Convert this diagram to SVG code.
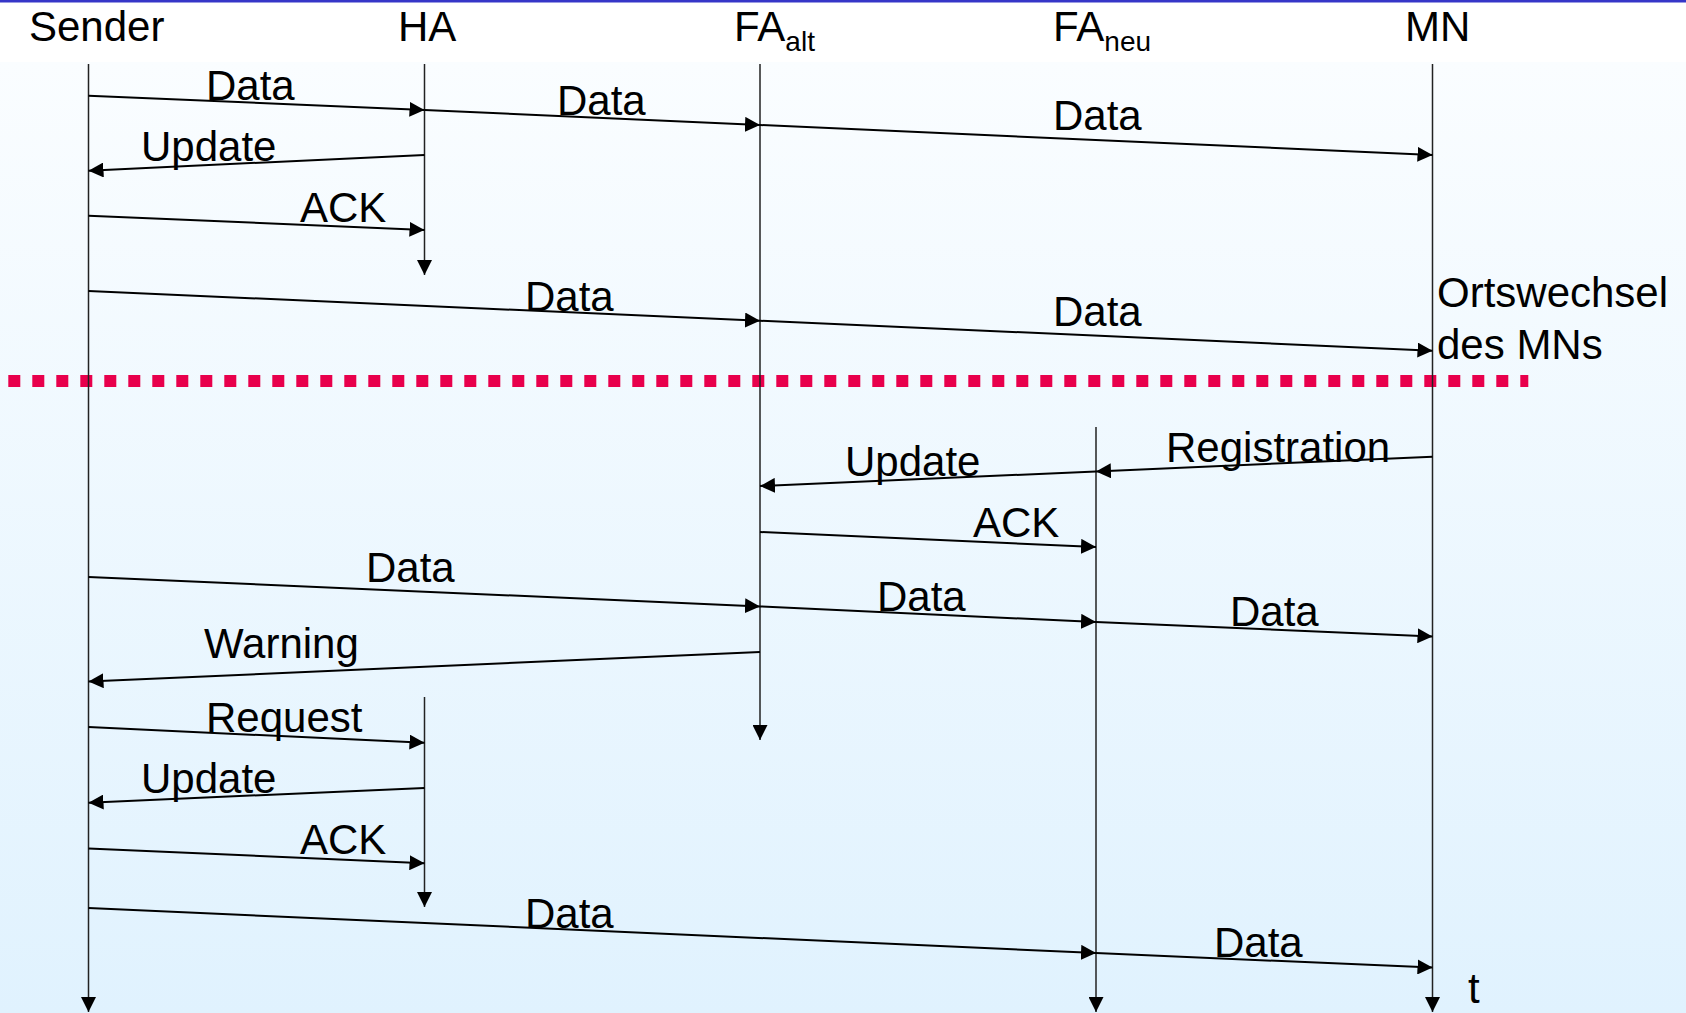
<svg xmlns="http://www.w3.org/2000/svg" width="1686" height="1013" viewBox="0 0 1686 1013">
<style>
text{font-family:"Liberation Sans",Arial,sans-serif;font-size:42px;fill:#000}
.sub{font-size:28px}
.life{stroke:#222;stroke-width:1.5;fill:none}
.msg{stroke:#000;stroke-width:2;fill:none}
</style>
<defs>
<linearGradient id="bg" x1="0" y1="0" x2="0" y2="1">
<stop offset="0" stop-color="#fafdff"/>
<stop offset="1" stop-color="#e0f2fe"/>
</linearGradient>
<marker id="ah" viewBox="0 0 15 15" refX="15" refY="7.5" markerWidth="15" markerHeight="15" markerUnits="userSpaceOnUse" orient="auto">
<path d="M0,0 L15,7.5 L0,15 z" fill="#000"/>
</marker>
</defs>
<rect x="0" y="0" width="1686" height="1013" fill="#fff"/>
<rect x="0" y="62" width="1686" height="951" fill="url(#bg)"/>
<rect x="0" y="0" width="1686" height="2.5" fill="#3636c8"/>
<line id="separator" x1="8.3" y1="381" x2="1528.3" y2="381" stroke="#e8004c" stroke-width="12" stroke-dasharray="12 12"/>
<g id="sender">
<text x="29" y="41">Sender</text>
<line class="life" x1="88.5" y1="64" x2="88.5" y2="1012" marker-end="url(#ah)"/>
</g>
<g id="ha">
<text x="398" y="41">HA</text>
<line class="life" x1="424.5" y1="64" x2="424.5" y2="275" marker-end="url(#ah)"/>
<line class="life" x1="424.5" y1="697" x2="424.5" y2="907" marker-end="url(#ah)"/>
</g>
<g id="fa_alt">
<text x="734" y="41">FA<tspan class="sub" dy="10">alt</tspan></text>
<line class="life" x1="760" y1="64" x2="760" y2="740" marker-end="url(#ah)"/>
</g>
<g id="fa_neu">
<text x="1053" y="41">FA<tspan class="sub" dy="10">neu</tspan></text>
<line class="life" x1="1096" y1="427" x2="1096" y2="1012" marker-end="url(#ah)"/>
</g>
<g id="mn">
<text x="1405" y="41">MN</text>
<line class="life" x1="1432.5" y1="64" x2="1432.5" y2="1012" marker-end="url(#ah)"/>
<text x="1437" y="307">Ortswechsel</text>
<text x="1437" y="359">des MNs</text>
<text x="1468" y="1003">t</text>
</g>
<g id="connectors">
<line class="msg" x1="88.5" y1="95.7" x2="424.5" y2="110" marker-end="url(#ah)"/>
<line class="msg" x1="424.5" y1="110" x2="760" y2="125" marker-end="url(#ah)"/>
<line class="msg" x1="760" y1="125" x2="1432.5" y2="155" marker-end="url(#ah)"/>
<line class="msg" x1="424.5" y1="155" x2="88.5" y2="170.7" marker-end="url(#ah)"/>
<line class="msg" x1="88.5" y1="215.7" x2="424.5" y2="230" marker-end="url(#ah)"/>
<line class="msg" x1="88.5" y1="291" x2="760" y2="320.7" marker-end="url(#ah)"/>
<line class="msg" x1="760" y1="320.7" x2="1432.5" y2="350.7" marker-end="url(#ah)"/>
<line class="msg" x1="1432.5" y1="456.7" x2="1096" y2="471.5" marker-end="url(#ah)"/>
<line class="msg" x1="1096" y1="471.5" x2="760" y2="486" marker-end="url(#ah)"/>
<line class="msg" x1="760" y1="532" x2="1096" y2="547" marker-end="url(#ah)"/>
<line class="msg" x1="88.5" y1="577" x2="760" y2="606.4" marker-end="url(#ah)"/>
<line class="msg" x1="760" y1="606.4" x2="1096" y2="622" marker-end="url(#ah)"/>
<line class="msg" x1="1096" y1="622" x2="1432.5" y2="636.5" marker-end="url(#ah)"/>
<line class="msg" x1="760" y1="652" x2="88.5" y2="681.5" marker-end="url(#ah)"/>
<line class="msg" x1="88.5" y1="727" x2="424.5" y2="742.8" marker-end="url(#ah)"/>
<line class="msg" x1="424.5" y1="788" x2="88.5" y2="802.7" marker-end="url(#ah)"/>
<line class="msg" x1="88.5" y1="848.4" x2="424.5" y2="863.3" marker-end="url(#ah)"/>
<line class="msg" x1="88.5" y1="908" x2="1096" y2="953" marker-end="url(#ah)"/>
<line class="msg" x1="1096" y1="953" x2="1432.5" y2="967.6" marker-end="url(#ah)"/>
</g>
<g id="labels">
<text x="206" y="100">Data</text>
<text x="557" y="115">Data</text>
<text x="1053" y="130">Data</text>
<text x="141" y="161">Update</text>
<text x="300" y="222">ACK</text>
<text x="525" y="311">Data</text>
<text x="1053" y="326">Data</text>
<text x="1166" y="462">Registration</text>
<text x="845" y="476">Update</text>
<text x="973" y="537">ACK</text>
<text x="366" y="582">Data</text>
<text x="877" y="611">Data</text>
<text x="1230" y="626">Data</text>
<text x="204" y="658">Warning</text>
<text x="206" y="732">Request</text>
<text x="141" y="793">Update</text>
<text x="300" y="854">ACK</text>
<text x="525" y="928">Data</text>
<text x="1214" y="957">Data</text>
</g>
</svg>
